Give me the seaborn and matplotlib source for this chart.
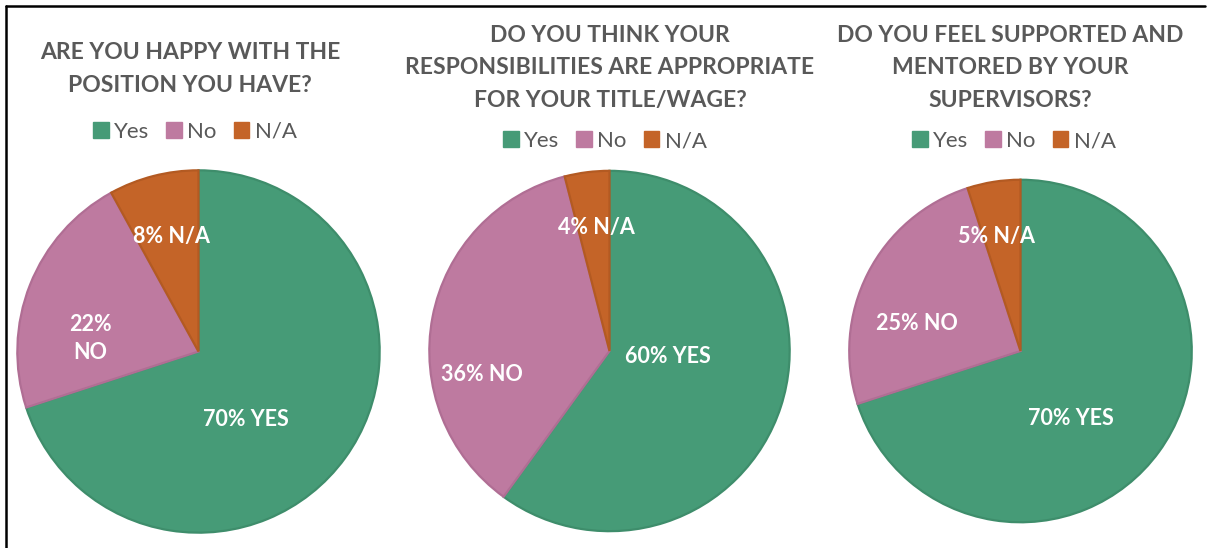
import matplotlib
matplotlib.use("Agg")
import matplotlib.pyplot as plt
from matplotlib.lines import Line2D
from matplotlib.patches import Patch
import seaborn as sns

# Survey answers (percent of respondents)
categories = ["Yes", "No", "N/A"]
questions = [
    "ARE YOU HAPPY WITH THE\nPOSITION YOU HAVE?",
    "DO YOU THINK YOUR\nRESPONSIBILITIES ARE APPROPRIATE\nFOR YOUR TITLE/WAGE?",
    "DO YOU FEEL SUPPORTED AND\nMENTORED BY YOUR\nSUPERVISORS?",
]
happy = [70, 22, 8]
responsibilities = [60, 36, 4]
supported = [70, 25, 5]
slice_labels = [
    ["70% YES", "22%\nNO", "8% N/A"],
    ["60% YES", "36% NO", "4% N/A"],
    ["70% YES", "25% NO", "5% N/A"],
]

sns.set_theme(style="white")
plt.rcParams["font.family"] = ["Lato", "DejaVu Sans"]

fills = sns.color_palette(["#469b77", "#be7aa0", "#c46428"])
edges = sns.color_palette(["#3e8d6b", "#b06e94", "#b35a22"])
title_gray = "#595959"

W, H = 1207, 548
fig = plt.figure(figsize=(W / 100, H / 100), dpi=100)
fig.patch.set_facecolor("white")

# pie centre (px), radius (px), title centre x/y, legend centre x/y
layout = [
    dict(cx=198.5, cy=351.5, r=183, tx=190, ty=69, lx=195, ly=132),
    dict(cx=609.5, cy=351.0, r=182, tx=610, ty=68, lx=605, ly=141),
    dict(cx=1020.5, cy=351.0, r=173, tx=1010, ty=68, lx=1014, ly=141),
]
# label offsets in units of the radius
label_offsets = [
    [(0.26, -0.37), (-0.59, 0.07), (-0.15, 0.63)],
    [(0.32, -0.03), (-0.70, -0.13), (-0.07, 0.68)],
    [(0.29, -0.39), (-0.60, 0.16), (-0.14, 0.66)],
]

for values, q, labels, lay, offs in zip(
    [happy, responsibilities, supported], questions, slice_labels, layout, label_offsets
):
    r = lay["r"]
    ax = fig.add_axes([(lay["cx"] - r) / W, (H - lay["cy"] - r) / H, 2 * r / W, 2 * r / H])
    wedges, _ = ax.pie(
        values,
        colors=fills,
        startangle=90,
        counterclock=False,
        radius=0.99,
        wedgeprops=dict(linewidth=1.6),
    )
    for w, ec in zip(wedges, edges):
        w.set_edgecolor(ec)
    ax.set_xlim(-1, 1)
    ax.set_ylim(-1, 1)
    ax.set_aspect("equal")
    ax.axis("off")
    for lab, (dx, dy) in zip(labels, offs):
        ax.text(dx, dy, lab, ha="center", va="center", color="white",
                fontsize=15.5, fontweight="bold", linespacing=1.4)

    fig.text(lay["tx"] / W, 1 - lay["ty"] / H, q, ha="center", va="center",
             fontsize=16.5, fontweight="bold", color=title_gray, linespacing=1.65)
    handles = [Patch(facecolor=c, edgecolor=c) for c in fills]
    fig.legend(handles, categories, loc="center", ncol=3,
               bbox_to_anchor=(lay["lx"] / W, 1 - lay["ly"] / H),
               frameon=False, fontsize=16, labelcolor=title_gray,
               handlelength=0.7, handleheight=0.7, handletextpad=0.25,
               columnspacing=0.75)

# outer frame lines (left and top)
fig.add_artist(Line2D([6 / W, 6 / W], [0, 1 - 6 / H], color="black", linewidth=1.8))
fig.add_artist(Line2D([6 / W, 1205 / W], [1 - 6 / H, 1 - 6 / H], color="black", linewidth=1.8))

fig.savefig("out.png", dpi=100, facecolor="white")
